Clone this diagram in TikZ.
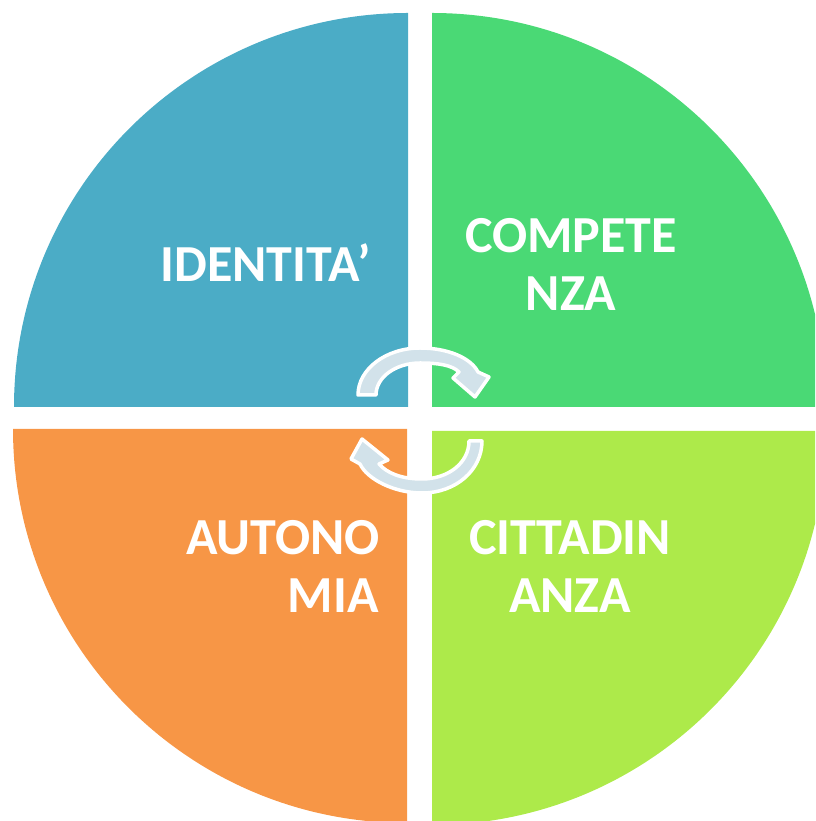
\documentclass[tikz,border=0pt]{standalone}
\usepackage{fontspec}
\setmainfont{Carlito}
\definecolor{qblue}{HTML}{4BACC6}
\definecolor{qgreen}{HTML}{4AD975}
\definecolor{qlime}{HTML}{ADEA4A}
\definecolor{qorange}{HTML}{F79646}
\definecolor{arrowfill}{HTML}{D2E2EA}
\tikzset{
  lbl/.style={text=white, font=\bfseries\fontsize{52}{58}\selectfont, inner sep=0pt},
  cycarrow/.style={fill=arrowfill, draw=white, line width=3.5pt, line join=round}
}
\begin{document}
\begin{tikzpicture}[x=1pt,y=1pt]
\useasboundingbox (0,0) rectangle (815,821);
\clip (0,0) rectangle (815,821);
% quadrants
\fill[qblue]   (408,414) -- (14,414) arc[start angle=180, end angle=90, radius=394] -- cycle;
\fill[qgreen]  (432,414) -- (432,808) arc[start angle=90, end angle=0, radius=394] -- cycle;
\fill[qorange] (407,392) -- (13,392) arc[start angle=180, end angle=270, radius=394] -- cycle;
\fill[qlime]   (432,390) -- (826,390) arc[start angle=0, end angle=-90, radius=394] -- cycle;
% labels
\node[lbl, anchor=base] (ident) at (265.5,539) {IDENTITA’};
\node[lbl, anchor=base] (comp1) at (571,568) {COMPETE};
\node[lbl, anchor=base] (comp2) at (571,510) {NZA};
\node[lbl, anchor=base] (citt1) at (570,266) {CITTADIN};
\node[lbl, anchor=base] (citt2) at (570,208) {ANZA};
\node[lbl, anchor=base east] (auto1) at (380,266) {AUTONO};
\node[lbl, anchor=base east] (auto2) at (379,208) {MIA};
% circular arrows
\draw[cycarrow] (376,426) -- (358,426)
  .. controls (358,452) and (386,473) .. (420,473)
  .. controls (448,473) and (471,463) .. (478,449)
  -- (489,444) -- (475,424) -- (453,443) -- (459,449)
  .. controls (452,456) and (438,458) .. (420,458)
  .. controls (396,458) and (376,444) .. (376,426) -- cycle;
\draw[cycarrow] (469,380) -- (482,380)
  .. controls (482,351) and (456,328) .. (422,328)
  .. controls (394,328) and (367,342) .. (360,357)
  -- (351,362) -- (362,382) -- (388,361) -- (379,357)
  .. controls (387,348) and (401,342) .. (422,342)
  .. controls (448,342) and (469,358) .. (469,380) -- cycle;
\end{tikzpicture}
\end{document}
